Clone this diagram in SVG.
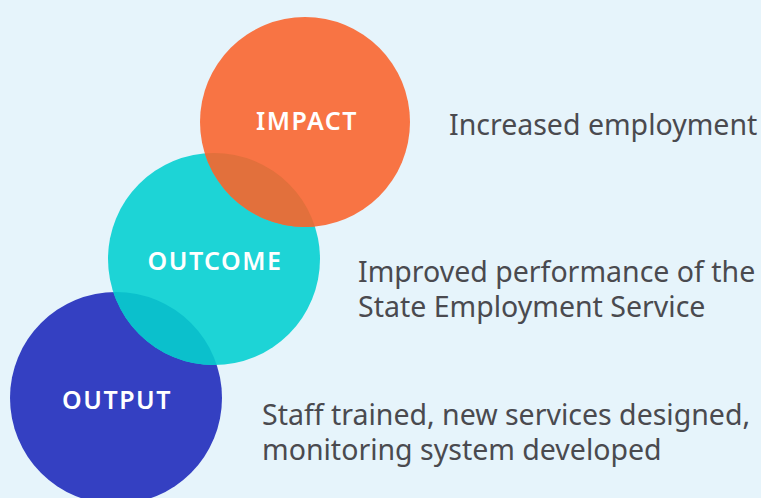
<svg xmlns="http://www.w3.org/2000/svg" width="761" height="498" viewBox="0 0 761 498">
<style>
.lbl{font-family:"Noto Sans","Open Sans",sans-serif;font-weight:600;font-size:25px;fill:#ffffff;text-anchor:middle;letter-spacing:1.5px}
.desc{font-family:"Noto Sans","Open Sans",sans-serif;font-size:28.5px;fill:#4a4a4f}
</style>
<defs>
<clipPath id="cpOutput"><circle cx="116" cy="398" r="106"/></clipPath>
<clipPath id="cpOutcome"><circle cx="214" cy="259" r="106"/></clipPath>
</defs>
<rect width="761" height="498" fill="#e6f4fb"/>
<g id="output">
<circle cx="116" cy="398" r="106" fill="#3440c2"/>
<text class="lbl" x="117" y="409">OUTPUT</text>
</g>
<g id="outcome">
<circle cx="214" cy="259" r="106" fill="#1dd4d6"/>
<circle cx="214" cy="259" r="106" fill="#0bc0cc" clip-path="url(#cpOutput)"/>
<text class="lbl" x="215" y="270">OUTCOME</text>
</g>
<g id="impact">
<circle cx="305" cy="122" r="105" fill="#f87444"/>
<circle cx="305" cy="122" r="105" fill="#e2703c" clip-path="url(#cpOutcome)"/>
<text class="lbl" x="307" y="130">IMPACT</text>
</g>
<g id="connectors"></g>
<g id="descriptions">
<text class="desc" x="449" y="135">Increased employment</text>
<text class="desc" x="358" y="282">Improved performance of the</text>
<text class="desc" x="358" y="317">State Employment Service</text>
<text class="desc" x="262" y="425">Staff trained, new services designed,</text>
<text class="desc" x="262" y="460">monitoring system developed</text>
</g>
</svg>
